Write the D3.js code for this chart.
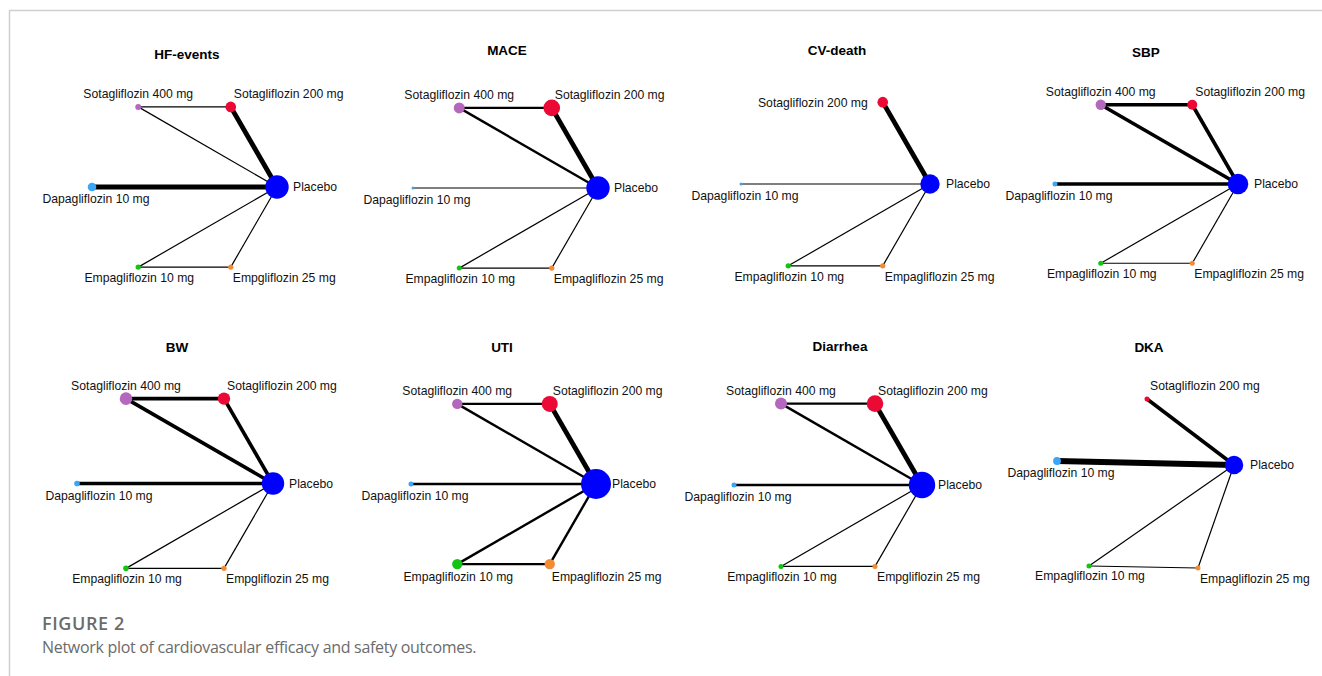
<!DOCTYPE html>
<html>
<head>
<meta charset="utf-8">
<script src="https://cdn.jsdelivr.net/npm/d3@7"></script>
<style>
  html, body { margin: 0; padding: 0; background: #fff; }
  svg { display: block; }
</style>
</head>
<body>
<svg id="fig" width="1322" height="676"></svg>
<script>
// ---- data -------------------------------------------------------------
const outcomes = ["HF-events", "MACE", "CV-death", "SBP", "BW", "UTI", "Diarrhea", "DKA"];

const treatments = ["Placebo", "Sotagliflozin 200 mg", "Sotagliflozin 400 mg",
                    "Dapagliflozin 10 mg", "Empagliflozin 10 mg", "Empagliflozin 25 mg"];

// label used for the Empagliflozin 25 mg node, per outcome (as printed)
const empa25Label = ["Empgliflozin 25 mg", "Empagliflozin 25 mg", "Empagliflozin 25 mg",
                     "Empagliflozin 25 mg", "Empgliflozin 25 mg", "Empagliflozin 25 mg",
                     "Empgliflozin 25 mg", "Empagliflozin 25 mg"];

// relative sample size per treatment (columns follow `treatments`), null = not in network
const sampleSize = [
  [60.8, 12.5,  4.0, 8.2,  3.2,  3.2],   // HF-events
  [60.8, 30.6, 13.4, 1.0,  2.8,  3.2],   // MACE
  [41.8, 12.5, null, 1.0,  3.2,  3.2],   // CV-death
  [47.1, 11.1, 12.0, 2.8,  2.8,  2.8],   // SBP
  [55.7, 17.1, 17.6, 3.5,  3.5,  3.2],   // BW
  [100,  28.4, 12.0, 2.8, 12.0, 12.0],   // UTI
  [77.4, 30.6, 16.0, 2.8,  2.8,  2.8],   // Diarrhea
  [37.6,  2.8, null, 6.8,  2.8,  2.8]    // DKA
];

// direct comparisons and the number of studies behind each (0 = none)
const comparisons = [
  ["Placebo", "Sotagliflozin 200 mg"],
  ["Placebo", "Sotagliflozin 400 mg"],
  ["Sotagliflozin 200 mg", "Sotagliflozin 400 mg"],
  ["Placebo", "Dapagliflozin 10 mg"],
  ["Placebo", "Empagliflozin 10 mg"],
  ["Placebo", "Empagliflozin 25 mg"],
  ["Empagliflozin 10 mg", "Empagliflozin 25 mg"]
];
const studies = [
  [4, 1, 1, 4, 1, 1, 1],   // HF-events
  [4, 2, 2, 1, 1, 1, 1],   // MACE
  [4, 0, 0, 1, 1, 1, 1],   // CV-death
  [3, 3, 3, 3, 1, 1, 1],   // SBP
  [3, 3, 3, 3, 1, 1, 1],   // BW
  [4, 2, 2, 2, 2, 2, 2],   // UTI
  [4, 2, 2, 2, 1, 1, 1],   // Diarrhea
  [3, 0, 0, 5, 1, 1, 1]    // DKA
];

// DKA network uses its own node layout (unit coordinates, y up)
const dkaLayout = [[0.957, 0.196], [0.011, 0.913], null, [-0.967, 0.239], [-0.62, -0.902], [0.565, -0.924]];

// ---- drawing ----------------------------------------------------------
const svg = d3.select("#fig");

const color = d3.scaleOrdinal()
  .domain(treatments)
  .range(["#0000ff", "#ea0a35", "#b468bd", "#3aa6f5", "#14c414", "#f28c34"]);

const radius = d3.scaleSqrt().domain([0, 100]).range([0, 15]);
const width = d3.scaleLinear().domain([0, 1]).range([0, 1.2]);

// panel frames on the page
const panels = [
  { cx: 184.5, cy: 187,   r: 92.5, tx: 187,  ty: 59 },
  { cx: 505.5, cy: 188,   r: 92.5, tx: 507,  ty: 54.5 },
  { cx: 835.5, cy: 184,   r: 94.5, tx: 837,  ty: 55 },
  { cx: 1146.5, cy: 184,  r: 91.5, tx: 1146, ty: 57 },
  { cx: 175,   cy: 483.5, r: 98,   tx: 177,  ty: 351.5 },
  { cx: 503.5, cy: 484,   r: 92.5, tx: 502,  ty: 351.5 },
  { cx: 828,   cy: 485,   r: 94,   tx: 840,  ty: 350.5 },
  { cx: 1146,  cy: 483,   r: 92,   tx: 1149, ty: 351.5 }
];

// page frame
svg.append("line").attr("x1", 9).attr("x2", 1322).attr("y1", 10.5).attr("y2", 10.5)
  .attr("stroke", "#cfcfcf").attr("stroke-width", 1.5);
svg.append("line").attr("x1", 9.5).attr("x2", 9.5).attr("y1", 10).attr("y2", 676)
  .attr("stroke", "#cfcfcf").attr("stroke-width", 1.5);

const labelFont = "'Liberation Sans', Arial, sans-serif";

outcomes.forEach((name, k) => {
  const p = panels[k];
  const x = d3.scaleLinear().domain([-1, 1]).range([p.cx - p.r, p.cx + p.r]);
  const y = d3.scaleLinear().domain([-1, 1]).range([p.cy + p.r, p.cy - p.r]);
  const g = svg.append("g").attr("class", "panel");

  // nodes on a circle (Placebo at 0°, then every 60° counter-clockwise)
  const nodes = treatments.map((t, i) => {
    if (sampleSize[k][i] == null) return null;
    let u;
    if (name === "DKA") u = dkaLayout[i];
    else {
      const a = i * Math.PI / 3;
      u = [Math.cos(a), Math.sin(a)];
    }
    return { id: t, i, px: x(u[0]), py: y(u[1]), r: radius(sampleSize[k][i]) };
  }).filter(Boolean);
  const byId = new Map(nodes.map(n => [n.id, n]));

  const edges = comparisons.map((c, j) => ({ a: byId.get(c[0]), b: byId.get(c[1]), n: studies[k][j] }))
    .filter(e => e.n > 0 && e.a && e.b);

  g.selectAll("line.edge").data(edges).join("line")
    .attr("class", "edge")
    .attr("x1", e => e.a.px).attr("y1", e => e.a.py)
    .attr("x2", e => e.b.px).attr("y2", e => e.b.py)
    .attr("stroke", "#000")
    .attr("stroke-width", e => width(e.n));

  g.selectAll("circle.node").data(nodes).join("circle")
    .attr("class", "node")
    .attr("cx", d => d.px).attr("cy", d => d.py)
    .attr("r", d => d.r)
    .attr("fill", d => color(d.id));

  // node labels
  const place = d => {
    switch (d.id) {
      case "Placebo": return { x: d.px + 16, y: d.py + 4.4, a: "start" };
      case "Sotagliflozin 200 mg":
        if (name === "CV-death") return { x: d.px - 15, y: d.py + 4.4, a: "end" };
        return { x: d.px + 3, y: d.py - 9, a: "start" };
      case "Sotagliflozin 400 mg": return { x: d.px, y: d.py - 9, a: "middle" };
      case "Dapagliflozin 10 mg": return { x: d.px + (name === "BW" ? 22 : 4), y: d.py + 16, a: "middle" };
      case "Empagliflozin 10 mg": return { x: d.px + 1, y: d.py + d.r + 12, a: "middle" };
      default: return { x: d.px + 2, y: d.py + d.r + 12, a: "start" };
    }
  };
  g.selectAll("text.lab").data(nodes).join("text")
    .attr("class", "lab")
    .each(function (d) {
      const pl = place(d);
      d3.select(this).attr("x", pl.x).attr("y", pl.y).attr("text-anchor", pl.a);
    })
    .attr("font-family", labelFont)
    .attr("font-size", 12.2)
    .attr("fill", "#111")
    .text(d => d.id === "Empagliflozin 25 mg" ? empa25Label[k] : d.id);

  g.append("text")
    .attr("x", p.tx).attr("y", p.ty)
    .attr("text-anchor", "middle")
    .attr("font-family", labelFont)
    .attr("font-weight", "bold")
    .attr("font-size", 13.5)
    .attr("fill", "#000")
    .text(name);
});

// caption
svg.append("text")
  .attr("x", 42).attr("y", 630)
  .attr("font-family", "'Open Sans', 'Noto Sans', sans-serif")
  .attr("font-weight", 600)
  .attr("font-size", 18)
  .attr("letter-spacing", 0.6)
  .attr("fill", "#6b6b6b")
  .text("FIGURE 2");
svg.append("text")
  .attr("x", 42).attr("y", 653)
  .attr("font-family", "'Open Sans', 'Noto Sans', sans-serif")
  .attr("font-size", 16)
  .attr("letter-spacing", -0.3)
  .attr("fill", "#6b6b6b")
  .text("Network plot of cardiovascular efficacy and safety outcomes.");
</script>
</body>
</html>
